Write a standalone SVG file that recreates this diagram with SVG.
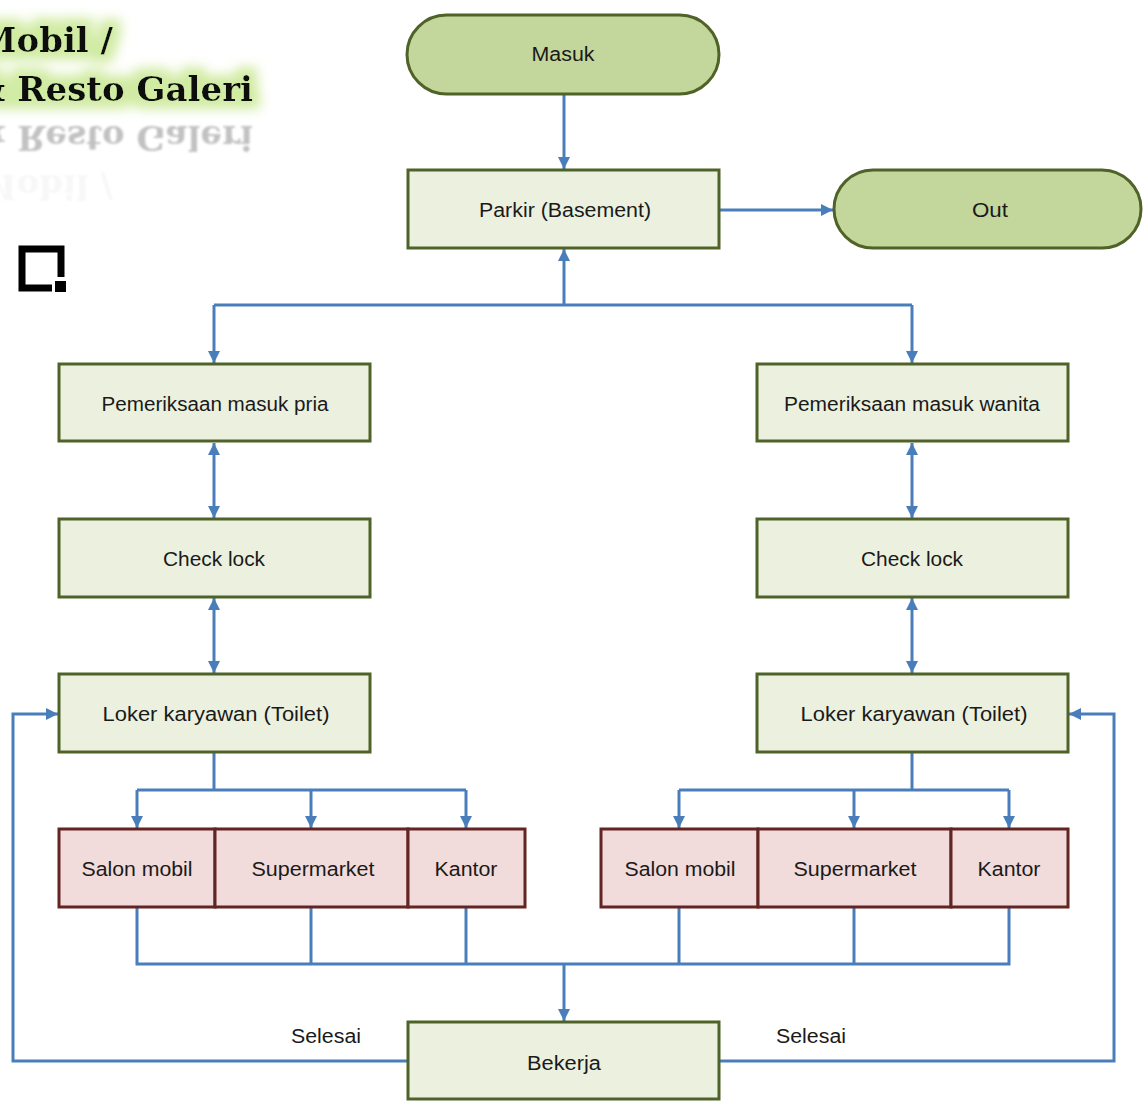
<svg xmlns="http://www.w3.org/2000/svg" width="1143" height="1101" viewBox="0 0 1143 1101">
  <style>
    .pill { fill: #c3d69b; stroke: #4f6228; stroke-width: 3; }
    .step { fill: #ebf1de; stroke: #4f6228; stroke-width: 3; }
    .area { fill: #f2dcdb; stroke: #632523; stroke-width: 3; }
    .lbl { font-family: "Liberation Sans", Arial, sans-serif; font-size: 20px; fill: #1a1a1a; text-anchor: middle; }
    .wire { fill: none; stroke: #4a7ebb; stroke-width: 3; }
    .title { font-family: "DejaVu Serif", "Liberation Serif", serif; font-weight: bold; font-size: 34px; fill: #111; text-anchor: end; }
  </style>
  <defs>
    <marker id="head" viewBox="0 0 10 10" refX="10" refY="5" markerWidth="12" markerHeight="12" markerUnits="userSpaceOnUse" orient="auto-start-reverse">
      <path d="M0,0 L10,5 L0,10 z" fill="#4a7ebb"/>
    </marker>
    <filter id="glow" x="-20%" y="-50%" width="140%" height="200%">
      <feMorphology in="SourceAlpha" operator="dilate" radius="8" result="fat"/>
      <feGaussianBlur in="fat" stdDeviation="6" result="soft"/>
      <feFlood flood-color="#d0eba2"/>
      <feComposite in2="soft" operator="in" result="halo"/>
      <feMerge>
        <feMergeNode in="halo"/>
        <feMergeNode in="SourceGraphic"/>
      </feMerge>
    </filter>
    <filter id="haze">
      <feGaussianBlur stdDeviation="0.8"/>
    </filter>
  </defs>

  <!-- heading with soft green halo and mirrored reflection -->
  <g id="heading">
    <g filter="url(#glow)">
      <text class="title" x="113" y="52">Mobil /</text>
      <text class="title" x="253" y="101">&amp; Resto Galeri</text>
    </g>
    <g transform="translate(0,227) scale(1,-1)" filter="url(#haze)">
      <text class="title" x="253" y="101" style="fill:#a8a8a8" opacity="0.7">&amp; Resto Galeri</text>
      <text class="title" x="113" y="52" style="fill:#e8e8e8" opacity="0.35">Mobil /</text>
    </g>
  </g>

  <!-- small frame icon -->
  <g id="icon">
    <path d="M61,277 V249 H22 V288 H52" fill="none" stroke="#000" stroke-width="7"/>
    <rect x="55" y="281" width="11" height="11" fill="#000"/>
  </g>

  <!-- connectors -->
  <g id="connectors" class="wire">
    <path class="wire" d="M564,94 V169" marker-end="url(#head)"/>
    <path class="wire" d="M719,210 H833" marker-end="url(#head)"/>
    <path class="wire" d="M564,305 V249" marker-end="url(#head)"/>
    <path class="wire" d="M214,305 H912"/>
    <path class="wire" d="M214,305 V363" marker-end="url(#head)"/>
    <path class="wire" d="M912,305 V363" marker-end="url(#head)"/>
    <path class="wire" d="M214,443 V518" marker-start="url(#head)" marker-end="url(#head)"/>
    <path class="wire" d="M214,598 V673" marker-start="url(#head)" marker-end="url(#head)"/>
    <path class="wire" d="M912,443 V518" marker-start="url(#head)" marker-end="url(#head)"/>
    <path class="wire" d="M912,598 V673" marker-start="url(#head)" marker-end="url(#head)"/>
    <path class="wire" d="M214,752 V790"/>
    <path class="wire" d="M137,790 H466"/>
    <path class="wire" d="M137,790 V828" marker-end="url(#head)"/>
    <path class="wire" d="M311,790 V828" marker-end="url(#head)"/>
    <path class="wire" d="M466,790 V828" marker-end="url(#head)"/>
    <path class="wire" d="M912,752 V790"/>
    <path class="wire" d="M679,790 H1009"/>
    <path class="wire" d="M679,790 V828" marker-end="url(#head)"/>
    <path class="wire" d="M854,790 V828" marker-end="url(#head)"/>
    <path class="wire" d="M1009,790 V828" marker-end="url(#head)"/>
    <path class="wire" d="M137,907 V964 H1009 V907"/>
    <path class="wire" d="M311,907 V964"/>
    <path class="wire" d="M466,907 V964"/>
    <path class="wire" d="M679,907 V964"/>
    <path class="wire" d="M854,907 V964"/>
    <path class="wire" d="M564,964 V1021" marker-end="url(#head)"/>
    <path class="wire" d="M408,1061 H13 V714 H58" marker-end="url(#head)"/>
    <path class="wire" d="M719,1061 H1114 V714 H1069" marker-end="url(#head)"/>
  </g>
  <text class="lbl" x="326" y="1043" textLength="70" lengthAdjust="spacingAndGlyphs">Selesai</text>
  <text class="lbl" x="811" y="1043" textLength="70" lengthAdjust="spacingAndGlyphs">Selesai</text>

  <!-- nodes -->
  <g id="masuk">
    <rect class="pill" x="407" y="15" width="312" height="79" rx="39.5"/>
    <text class="lbl" x="563" y="61" textLength="63" lengthAdjust="spacingAndGlyphs">Masuk</text>
  </g>
  <g id="parkir">
    <rect class="step" x="408" y="170" width="311" height="78"/>
    <text class="lbl" x="565" y="217" textLength="172" lengthAdjust="spacingAndGlyphs">Parkir (Basement)</text>
  </g>
  <g id="out">
    <rect class="pill" x="834" y="170" width="307" height="78" rx="39"/>
    <text class="lbl" x="990" y="217" textLength="36" lengthAdjust="spacingAndGlyphs">Out</text>
  </g>

  <g id="periksa-pria">
    <rect class="step" x="59" y="364" width="311" height="77"/>
    <text class="lbl" x="215" y="411" textLength="227" lengthAdjust="spacingAndGlyphs">Pemeriksaan masuk pria</text>
  </g>
  <g id="checklock-pria">
    <rect class="step" x="59" y="519" width="311" height="78"/>
    <text class="lbl" x="214" y="566" textLength="102" lengthAdjust="spacingAndGlyphs">Check lock</text>
  </g>
  <g id="loker-pria">
    <rect class="step" x="59" y="674" width="311" height="78"/>
    <text class="lbl" x="216" y="721" textLength="227" lengthAdjust="spacingAndGlyphs">Loker karyawan (Toilet)</text>
  </g>

  <g id="periksa-wanita">
    <rect class="step" x="757" y="364" width="311" height="77"/>
    <text class="lbl" x="912" y="411" textLength="256" lengthAdjust="spacingAndGlyphs">Pemeriksaan masuk wanita</text>
  </g>
  <g id="checklock-wanita">
    <rect class="step" x="757" y="519" width="311" height="78"/>
    <text class="lbl" x="912" y="566" textLength="102" lengthAdjust="spacingAndGlyphs">Check lock</text>
  </g>
  <g id="loker-wanita">
    <rect class="step" x="757" y="674" width="311" height="78"/>
    <text class="lbl" x="914" y="721" textLength="227" lengthAdjust="spacingAndGlyphs">Loker karyawan (Toilet)</text>
  </g>

  <g id="salon-pria">
    <rect class="area" x="59" y="829" width="156" height="78"/>
    <text class="lbl" x="137" y="876" textLength="111" lengthAdjust="spacingAndGlyphs">Salon mobil</text>
  </g>
  <g id="supermarket-pria">
    <rect class="area" x="215" y="829" width="193" height="78"/>
    <text class="lbl" x="313" y="876" textLength="123" lengthAdjust="spacingAndGlyphs">Supermarket</text>
  </g>
  <g id="kantor-pria">
    <rect class="area" x="408" y="829" width="117" height="78"/>
    <text class="lbl" x="466" y="876" textLength="63" lengthAdjust="spacingAndGlyphs">Kantor</text>
  </g>

  <g id="salon-wanita">
    <rect class="area" x="601" y="829" width="157" height="78"/>
    <text class="lbl" x="680" y="876" textLength="111" lengthAdjust="spacingAndGlyphs">Salon mobil</text>
  </g>
  <g id="supermarket-wanita">
    <rect class="area" x="758" y="829" width="193" height="78"/>
    <text class="lbl" x="855" y="876" textLength="123" lengthAdjust="spacingAndGlyphs">Supermarket</text>
  </g>
  <g id="kantor-wanita">
    <rect class="area" x="951" y="829" width="117" height="78"/>
    <text class="lbl" x="1009" y="876" textLength="63" lengthAdjust="spacingAndGlyphs">Kantor</text>
  </g>

  <g id="bekerja">
    <rect class="step" x="408" y="1022" width="311" height="77"/>
    <text class="lbl" x="564" y="1070" textLength="74" lengthAdjust="spacingAndGlyphs">Bekerja</text>
  </g>
</svg>
